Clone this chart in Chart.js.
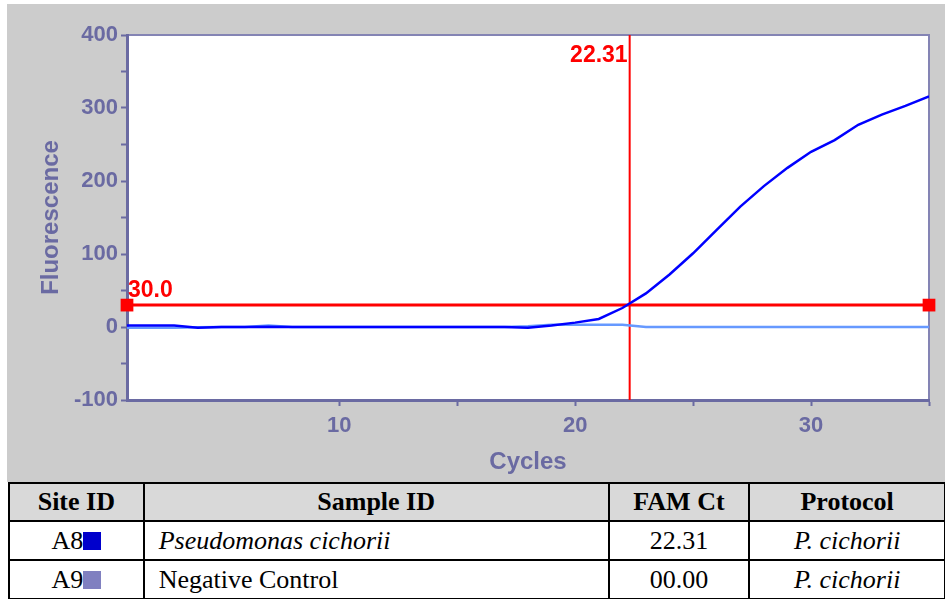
<!DOCTYPE html>
<html>
<head>
<meta charset="utf-8">
<script src="https://cdn.jsdelivr.net/npm/chart.js@4.4.1/dist/chart.umd.min.js"></script>
<style>
  html, body { margin: 0; padding: 0; background: #fff; }
  body { width: 945px; height: 599px; position: relative; overflow: hidden; }
  #plot { position: absolute; left: 7px; top: 4px; width: 938px; height: 478px; background: #cccccc; }
  table {
    position: absolute; left: 8px; top: 482px; width: 938px;
    border-collapse: collapse; font-family: "Liberation Serif", "Times New Roman", serif;
    font-size: 26px; color: #000;
  }
  td, th { border: 2px solid #000; text-align: center; padding: 0; line-height: 30px; }
  th { background: #d9d9d9; height: 36px; }
  td { height: 37px; }
  td.sample { text-align: left; padding-left: 14px; }
  .it { font-style: italic; }
  .sw { display: inline-block; width: 18px; height: 18px; vertical-align: -1px; }
</style>
</head>
<body>
<div id="plot"><canvas id="myChart"></canvas></div>
<table id="results">
  <colgroup><col style="width:135px"><col style="width:466px"><col style="width:141px"><col style="width:196px"></colgroup>
  <thead><tr><th>Site ID</th><th>Sample ID</th><th>FAM Ct</th><th>Protocol</th></tr></thead>
  <tbody></tbody>
</table>
<script>
const cycles = [1, 2, 3, 4, 5, 6, 7, 8, 9, 10, 11, 12, 13, 14, 15, 16, 17, 18,
  19, 20, 21, 22, 23, 24, 25, 26, 27, 28, 29, 30, 31, 32, 33, 34, 35];
const a8Values = [2, 2, 2, -1, 0, 0, 0.5, 0, 0, 0, 0, 0, 0, 0, 0, 0, 0, -1,
  2, 6, 11, 26, 46, 72, 101, 133, 165, 193, 218, 240, 256, 277, 291, 303, 316];
const a9Values = [-1, -1, -1, -0.5, 0, 0, 2, 0, 0, 0, 0, 0, 0, 0, 0, 0, 0, 1,
  3, 3, 3, 3, 0, 0, 0, 0, 0, 0, 0, 0, 0, 0, 0, 0, 0];
const threshold = 30;
const ctValue = 22.31;
const xTicks = [10, 15, 20, 25, 30, 35];
const xTickLabels = [10, 20, 30];
const yTickLabels = [-100, 0, 100, 200, 300, 400];

const siteIds = ['A8', 'A9'];
const sampleIds = ['Pseudomonas cichorii', 'Negative Control'];
const famCt = ['22.31', '00.00'];
const protocols = ['P. cichorii', 'P. cichorii'];
const swatches = ['#0000cc', '#8080c0'];

const axisColor = '#6a6aa2';
const labelFont = { family: 'Liberation Sans', size: 22, weight: 'bold' };
const titleFont = { family: 'Liberation Sans', size: 24, weight: 'bold' };

// results table under the chart
const tbody = document.querySelector('#results tbody');
siteIds.forEach((id, i) => {
  const tr = document.createElement('tr');
  tr.innerHTML =
    '<td>' + id + '<span class="sw" style="background:' + swatches[i] + '"></span></td>' +
    '<td class="sample' + (i === 0 ? ' it' : '') + '">' + sampleIds[i] + '</td>' +
    '<td>' + famCt[i] + '</td>' +
    '<td class="it">' + protocols[i] + '</td>';
  tbody.appendChild(tr);
});

const plotFrame = {
  id: 'plotFrame',
  beforeDraw(chart) {
    const { ctx, chartArea: a } = chart;
    ctx.save();
    ctx.fillStyle = '#ffffff';
    ctx.fillRect(a.left, a.top, a.width, a.height);
    ctx.strokeStyle = '#8484b4';
    ctx.lineWidth = 2;
    ctx.beginPath();
    ctx.moveTo(a.left, a.top);
    ctx.lineTo(a.right, a.top);
    ctx.lineTo(a.right, a.bottom);
    ctx.stroke();
    ctx.restore();
  },
  afterDatasetsDraw(chart) {
    const { ctx, scales } = chart;
    const x = scales.x, y = scales.y;
    ctx.save();
    ctx.fillStyle = '#ff0000';
    ctx.font = 'bold 23px "Liberation Sans"';
    ctx.textBaseline = 'alphabetic';
    ctx.textAlign = 'right';
    ctx.fillText(ctValue.toFixed(2), x.getPixelForValue(ctValue) - 2, y.top + 27);
    ctx.textAlign = 'left';
    ctx.fillText(threshold.toFixed(1), x.left + 1, y.getPixelForValue(threshold) - 8);
    ctx.restore();
  }
};

const ctx = document.getElementById('myChart').getContext('2d');
new Chart(ctx, {
  type: 'line',
  data: {
    datasets: [
      {
        label: 'A8',
        data: cycles.map((c, i) => ({ x: c, y: a8Values[i] })),
        borderColor: '#0000ff',
        borderWidth: 2.5,
        pointRadius: 0,
        tension: 0,
      },
      {
        label: 'A9',
        data: cycles.map((c, i) => ({ x: c, y: a9Values[i] })),
        borderColor: '#6699ff',
        borderWidth: 2.5,
        pointRadius: 0,
        tension: 0,
      },
      {
        label: 'Ct',
        data: [{ x: ctValue, y: -100 }, { x: ctValue, y: 400 }],
        borderColor: '#ff0000',
        borderWidth: 2,
        pointRadius: 0,
      },
      {
        label: 'Threshold',
        data: [{ x: cycles[0], y: threshold }, { x: cycles[cycles.length - 1], y: threshold }],
        borderColor: '#ff0000',
        backgroundColor: '#ff0000',
        borderWidth: 3,
        pointStyle: 'rect',
        pointRadius: 9,
        pointBorderWidth: 0,
        clip: false,
      },
    ],
  },
  options: {
    responsive: true,
    maintainAspectRatio: false,
    animation: false,
    layout: { padding: { top: 31, right: 16, left: 0, bottom: 0 } },
    plugins: {
      legend: { display: false },
      tooltip: { enabled: false },
    },
    scales: {
      x: {
        type: 'linear',
        min: 1,
        max: 35,
        afterBuildTicks: (scale) => { scale.ticks = xTicks.map((v) => ({ value: v })); },
        afterFit: (scale) => { scale.height = 82; },
        grid: { drawOnChartArea: false, drawTicks: true, tickLength: 6, tickWidth: 2, tickColor: axisColor },
        border: { display: true, color: axisColor, width: 3 },
        ticks: {
          padding: 7,
          color: axisColor,
          font: labelFont,
          maxRotation: 0,
          autoSkip: false,
          callback: (v) => (xTickLabels.includes(v) ? v : ''),
        },
        title: { display: true, text: 'Cycles', color: axisColor, font: titleFont, padding: { top: 0, bottom: 5 } },
      },
      y: {
        min: -100,
        max: 400,
        afterFit: (scale) => { scale.width = 120; },
        grid: { drawOnChartArea: false, drawTicks: true, tickLength: 6, tickWidth: 2, tickColor: axisColor },
        border: { display: true, color: axisColor, width: 3 },
        ticks: {
          stepSize: 50,
          padding: 3,
          color: axisColor,
          font: labelFont,
          autoSkip: false,
          callback: (v) => (yTickLabels.includes(v) ? v : ''),
        },
        title: { display: true, text: 'Fluorescence', color: axisColor, font: titleFont, padding: { top: 30, bottom: 0 } },
      },
    },
  },
  plugins: [plotFrame],
});
</script>
</body>
</html>
